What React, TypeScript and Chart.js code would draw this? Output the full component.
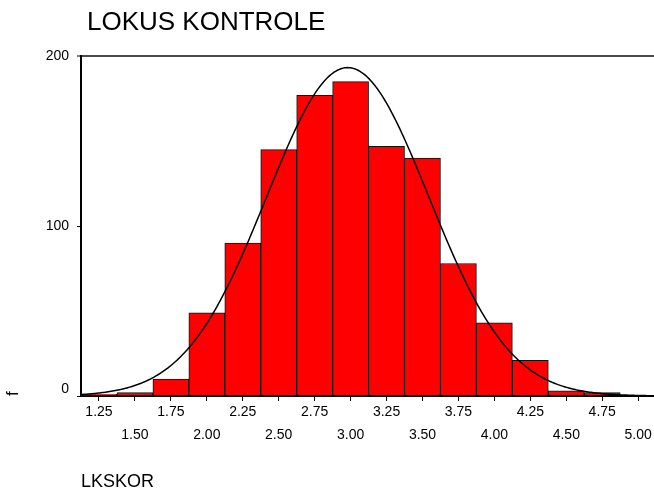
import React, { useEffect, useRef } from "react";
import { Chart, registerables } from "chart.js";

Chart.register(...registerables);

// ---- data ----
const TITLE = "LOKUS KONTROLE";
const X_TITLE = "LKSKOR";
const Y_TITLE = "f";
const BIN_CENTERS = [1.25, 1.5, 1.75, 2.0, 2.25, 2.5, 2.75, 3.0, 3.25, 3.5, 3.75, 4.0, 4.25, 4.5, 4.75, 5.0];
const COUNTS = [1, 2, 10, 49, 90, 145, 177, 185, 147, 140, 78, 43, 21, 3, 2, 0];
const X_TICKS = [1.25, 1.5, 1.75, 2.0, 2.25, 2.5, 2.75, 3.0, 3.25, 3.5, 3.75, 4.0, 4.25, 4.5, 4.75, 5.0];
const X_TICK_LABELS = ["1.25", "1.50", "1.75", "2.00", "2.25", "2.50", "2.75", "3.00", "3.25", "3.50", "3.75", "4.00", "4.25", "4.50", "4.75", "5.00"];
const Y_TICKS = [0, 100, 200];
const X_MIN = 1.125;
const X_MAX = 5.11;
const BIN_WIDTH = 0.25;
// fitted normal curve parameters
const MEAN = 2.98;
const SD = 0.564;

const FONT = '"Liberation Sans", Arial, Helvetica, sans-serif';

export default function App() {
  const ref = useRef<HTMLCanvasElement | null>(null);

  useEffect(() => {
    const canvas = ref.current;
    if (!canvas) return;
    document.body.style.margin = "0";

    const n = COUNTS.reduce((a, b) => a + b, 0);
    const curve: { x: number; y: number }[] = [];
    const steps = 400;
    for (let i = 0; i <= steps; i++) {
      const x = X_MIN + ((X_MAX - X_MIN) * i) / steps;
      const z = (x - MEAN) / SD;
      curve.push({ x, y: (n * BIN_WIDTH) / (SD * Math.sqrt(2 * Math.PI)) * Math.exp(-0.5 * z * z) });
    }

    const titleShift = {
      id: "titleShift",
      afterLayout(chart: any) {
        if (chart.titleBlock) {
          chart.titleBlock.left = chart.chartArea.left + 6;
        }
      },
    };

    const chart = new Chart(canvas, {
      type: "bar",
      data: {
        datasets: [
          {
            type: "line",
            data: curve,
            borderColor: "#000000",
            borderWidth: 1.5,
            pointRadius: 0,
            tension: 0,
            order: 0,
          } as any,
          {
            type: "bar",
            data: BIN_CENTERS.map((x, i) => ({ x, y: COUNTS[i] })),
            backgroundColor: "#ff0000",
            borderColor: "#111111",
            borderWidth: 1,
            borderSkipped: false,
            barPercentage: 1,
            categoryPercentage: 1,
            order: 1,
          } as any,
        ],
      },
      options: {
        responsive: false,
        animation: false,
        layout: { padding: 0 },
        plugins: {
          legend: { display: false },
          tooltip: { enabled: false },
          title: {
            display: true,
            text: TITLE,
            align: "start",
            color: "#000000",
            font: { family: FONT, size: 26, weight: "normal", lineHeight: 1.2 },
            padding: { top: 7, bottom: 18 },
          },
        },
        scales: {
          x: {
            type: "linear",
            min: X_MIN,
            max: X_MAX,
            offset: false,
            afterFit: (scale: any) => {
              scale.height = 97;
            },
            afterBuildTicks: (scale: any) => {
              scale.ticks = X_TICKS.map((v) => ({ value: v }));
            },
            grid: {
              offset: false,
              drawOnChartArea: false,
              drawTicks: true,
              tickLength: 5,
              tickColor: "#000000",
              tickWidth: 1,
            },
            border: { display: true, color: "#000000", width: 2 },
            ticks: {
              autoSkip: false,
              maxRotation: 0,
              minRotation: 0,
              padding: 0,
              color: "#000000",
              font: { family: FONT, size: 14, lineHeight: 23 / 14 },
              callback: (value: any, index: number) => {
                const lbl = X_TICK_LABELS[index] ?? String(value);
                return index % 2 === 0 ? [lbl, ""] : ["", lbl];
              },
            },
            title: {
              display: true,
              text: X_TITLE,
              align: "start",
              color: "#000000",
              font: { family: FONT, size: 18, lineHeight: 1.2 },
              padding: { top: 0, bottom: 0 },
            },
          },
          y: {
            type: "linear",
            min: 0,
            max: 200,
            afterFit: (scale: any) => {
              scale.width = 81;
            },
            afterBuildTicks: (scale: any) => {
              scale.ticks = Y_TICKS.map((v) => ({ value: v }));
            },
            grid: {
              drawOnChartArea: true,
              drawTicks: true,
              tickLength: 4,
              tickColor: "#000000",
              tickWidth: 1,
              color: (ctx: any) => (ctx.tick && ctx.tick.value === 200 ? "#4a4a4a" : "rgba(0,0,0,0)"),
              lineWidth: (ctx: any) => (ctx.tick && ctx.tick.value === 200 ? 2 : 1),
            },
            border: { display: true, color: "#000000", width: 2 },
            ticks: {
              padding: 8,
              color: "#000000",
              font: { family: FONT, size: 14, lineHeight: 1 },
              callback: (value: any) => (Number(value) === 0 ? ["0", ""] : String(value)),
            },
            title: {
              display: true,
              text: Y_TITLE,
              align: "start",
              color: "#000000",
              font: { family: FONT, size: 17, lineHeight: 1.2 },
              padding: { top: 3, bottom: 0 },
            },
          },
        },
      } as any,
      plugins: [titleShift],
    });

    return () => chart.destroy();
  }, []);

  return (
    <div style={{ position: "absolute", left: 0, top: 0, width: 654, height: 493 }}>
      <canvas ref={ref} width={654} height={493} style={{ width: 654, height: 493, display: "block" }} />
    </div>
  );
}
